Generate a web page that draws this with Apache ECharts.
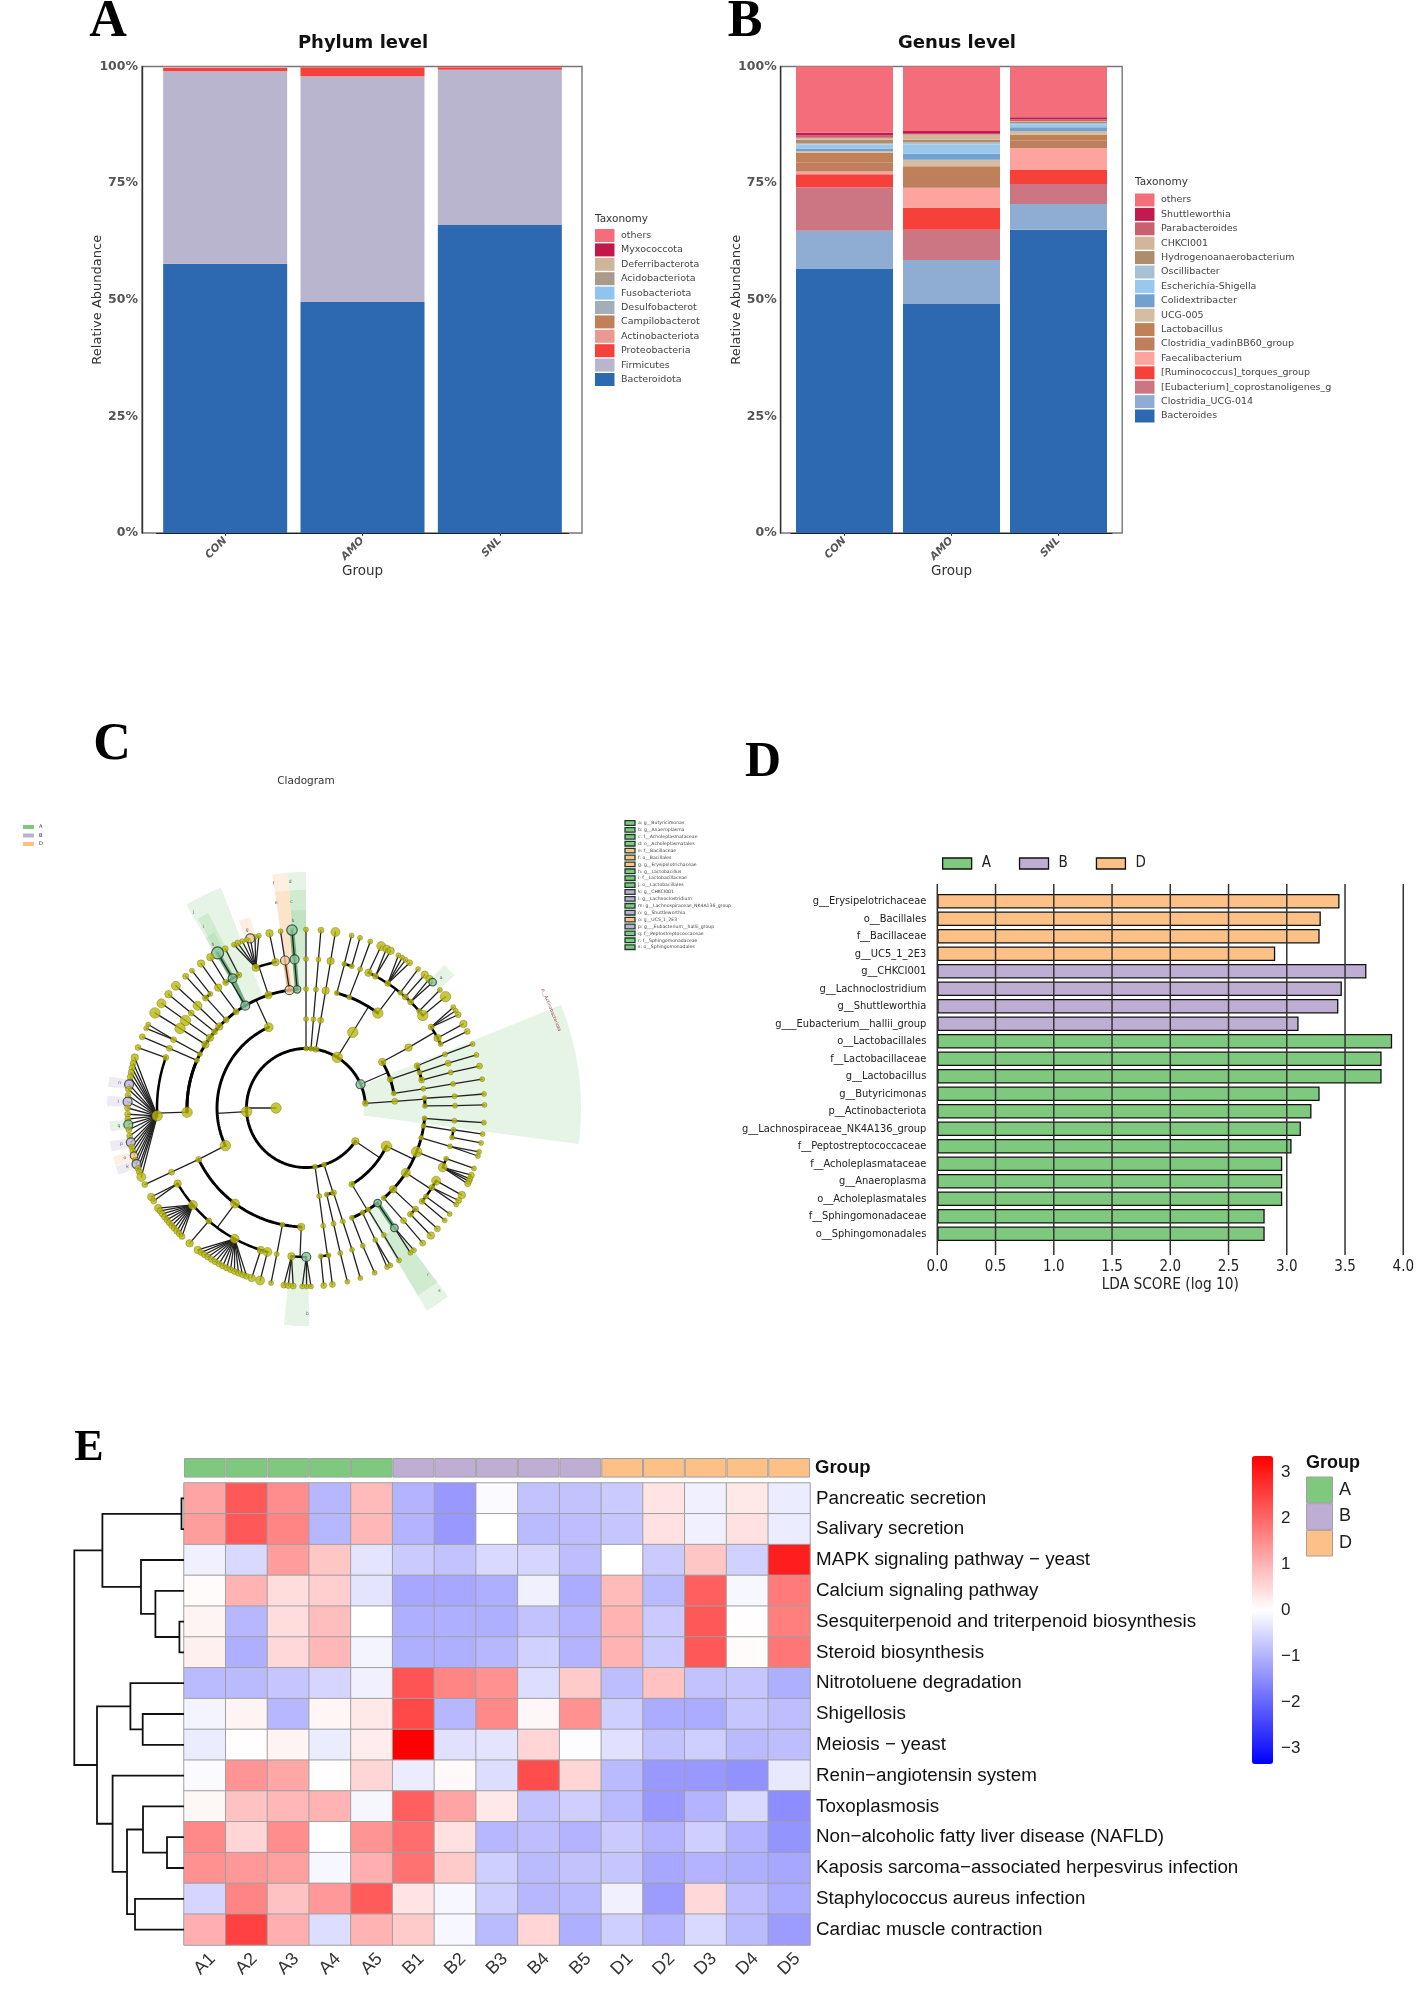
<!DOCTYPE html>
<html><head><meta charset="utf-8"><style>html,body{margin:0;padding:0;background:#fff}#c{width:1417px;height:1991px}</style>
<script src="https://cdn.jsdelivr.net/npm/echarts@6/dist/echarts.min.js"></script></head><body><div id="c"></div>
<script>
// ---------- Panel A ----------
const groups3 = ['CON','AMO','SNL'];
const phylumNames = ['Bacteroidota','Firmicutes','Proteobacteria','Actinobacteriota','Campilobacterota','Desulfobacterota','Fusobacteriota','Acidobacteriota','Deferribacterota','Myxococcota','others'];
const phylumColors = ['#2d69b1','#b9b5cf','#f6413a','#e99a90','#c08059','#a4aeb8','#90c4ee','#a99a8a','#cfb59a','#c2174a','#f36e7a'];
const phylumValues = [[57.7,49.5,66.0],[41.3,48.4,33.3],[0.7,1.95,0.55],[0.05,0.05,0.03],[0.05,0.03,0.03],[0.05,0.03,0.03],[0.02,0.01,0.01],[0.01,0.01,0.01],[0.02,0.01,0.01],[0.01,0.01,0.01],[0.09,0.02,0.03]];
// ---------- Panel B ----------
const genusNames = ['Bacteroides','Clostridia_UCG-014','[Eubacterium]_coprostanoligenes_group','[Ruminococcus]_torques_group','Faecalibacterium','Clostridia_vadinBB60_group','Lactobacillus','UCG-005','Colidextribacter','Escherichia-Shigella','Oscillibacter','Hydrogenoanaerobacterium','CHKCI001','Parabacteroides','Shuttleworthia','others '];
const genusColors = ['#2d69b1','#8fadd3','#cc7684','#f6413a','#fca49d','#bf7f5f','#c08058','#d4bda2','#72a0cf','#99c8ee','#a8c0d4','#ae8c6c','#d2b69a','#c9606f','#c21a4c','#f36e7a'];
const genusValues = [[56.7,49.1,65.0],[8.1,9.4,5.5],[9.3,6.5,4.3],[2.8,4.7,3.0],[0.6,4.3,4.7],[2.0,2.3,1.6],[2.0,2.3,1.3],[0.4,1.4,0.8],[0.5,1.3,0.8],[0.9,2.0,0.6],[0.2,0.4,0.3],[0.8,0.6,0.2],[0.4,1.1,0.2],[0.5,0.2,0.4],[0.6,0.6,0.4],[14.2,13.8,10.9]];
// ---------- Panel C: cladogram, angle in degrees and relative abundance class ----------
const n = (angle, abundance, kids, group) => ({angle, abundance, kids: kids || [], group: group || ''});
const chain = (angle, abundances, group) => abundances.reduceRight((kid, ab) => [n(angle, ab, kid, group)], [])[0];
const cladoTree = n(180,5,[
  n(4.5,2,[n(4.3,2,[n(4.7,1,[n(4.5,1,[n(4.5,1)])]), n(1,1,[n(0.9,1,[n(1,1)])])])]),
  n(23.5,3,[
    n(31.1,3,[n(30.5,3,[n(32.9,2,[n(34.4,1),n(33,1),n(31.5,2)]), n(28,3,[n(28.1,3)]), n(25.4,1,[n(25.4,2)])])]),
    n(18.8,2,[n(20.8,2,[n(21.1,1,[n(21,1)])]), n(17.3,1,[n(17.5,2,[n(17.3,1)])]), n(13.6,2,[n(13.8,1,[n(13.6,2)])])]),
    n(9.5,1,[n(9.3,1,[n(9.3,1,[n(9.3,1)])])])
  ],'A'),
  n(58.4,5,[n(58.3,5,[
    n(75,1,[n(75.1,1,[n(75.2,1)]), n(72.1,1,[n(72.4,1)])]),
    n(68.7,1,[n(68.7,1,[n(68.9,1)])]),
    n(52.9,5,[
      n(65.2,3,[n(65.1,4)]),
      n(62.2,2,[n(63.2,3),n(61.7,3)]),
      n(56.7,2,[n(58.8,1),n(57.4,1),n(56.1,1),n(54.5,2)]),
      n(50.7,1,[n(51.1,1)]),
      n(48.2,2,[n(48.3,3)]),
      n(45.4,2,[n(46.3,3),n(44.8,2,[],'A')]),
      n(40.6,1,[n(41.4,1)]),
      n(38.4,5,[n(38.6,5)])
    ])
  ])]),
  chain(80.5,[2,2,3,3,4]),
  chain(85.2,[1,1,1,1,2]),
  chain(90,[1,1,1,1,1]),
  n(183.5,5,[
    n(114.8,4,[
      n(94.3,2,[n(94.4,3,[n(94.5,4,[],'A')],'A')],'A'),
      n(98,3,[n(98.1,3,[n(98.2,1)],'D')],'D'),
      n(108.4,3,[
        n(101.8,3,[n(101.8,3)]),
        n(109.7,3,[n(105.3,1),n(106.6,1),n(108.2,3,[],'D'),n(109.4,1),n(110.9,1),n(112.5,2),n(113.8,1)])
      ]),
      n(120.7,3,[n(116.8,2,[n(116.9,2)]),n(119.5,3,[n(119.7,5,[],'A')],'A'),n(122.6,2,[n(122.4,3)])],'A'),
      n(126,2,[n(126.1,3,[n(126,3)])]),
      n(132.2,2,[n(130,1,[n(129.7,1)]),n(132.4,2,[n(132.4,2)])]),
      n(136.8,3,[n(136.7,4,[n(136.8,4)])]),
      n(140.2,2,[n(140.4,2,[n(140.4,3)])]),
      n(143.8,3,[n(144,5,[n(144.1,4)])]),
      n(147.7,3,[n(147.7,5,[n(147.8,5)])]),
      n(153,1,[n(152.7,2,[n(152.1,1),n(153.5,1)])]),
      n(156.4,1,[n(156.4,2,[n(156.5,2)])]),
      n(182,5,[n(160.2,2,[n(160.2,2)]),
        n(183,5,[n(163.6,3),n(165.5,2),n(167,2),n(168.5,2),n(170,2),n(172.4,3,[],'B'),n(174,2),n(176,2),n(178,3,[],'B'),n(180,2),n(182,2),n(183.6,2),n(185.3,3,[],'A'),n(187,2),n(189,2),n(191.1,3,[],'B'),n(192.6,2),n(194,2),n(195.5,2,[],'D'),n(197,2),n(198.3,3,[],'B'),n(199.8,2),n(201,2),n(202.7,4)])
      ])
    ]),
    n(205,5,[
      n(205.6,2,[n(205.5,2,[n(205.4,2)])]),
      n(233.4,4,[
        n(210.5,3,[n(209.9,3),n(211.4,2)]),
        n(220.6,4,[n(214.1,3),n(215.2,2),n(216.4,2),n(217.6,2),n(218.8,2),n(220,2),n(221.2,2),n(222.4,2),n(223.6,2),n(224.8,2),n(226,2)]),
        n(229.3,2,[n(229.3,3)]),
        n(241.4,4,[n(232.7,3),n(234,2),n(235.3,2),n(236.6,2),n(238,2),n(239.4,2),n(240.8,2),n(242.2,2),n(243.6,2),n(245,2),n(246.4,2),n(247.8,2),n(249.2,2),n(250.6,2)]),
        n(252.3,3,[n(252.3,3)]),
        n(255,4,[n(255.1,4)])
      ]),
      n(258.6,1,[n(258.7,1,[n(258.7,1)])]),
      n(267.7,3,[n(264.4,3,[n(262.9,2),n(264.3,2),n(265.9,2)]), n(270.1,3,[n(268.8,1),n(270.2,1),n(271.6,1)],'A')])
    ])
  ]),
  n(278.8,1,[n(278.5,1,[n(278.3,1,[n(275.7,1,[n(275.7,2)]),n(278.7,1,[n(278.5,2)])])])]),
  n(287.7,1,[n(283.5,1,[n(283.4,1,[n(283.3,1,[n(283.4,1)])])]), n(288,2,[n(288,1,[n(288,1,[n(287.7,1)])])])]),
  n(326,3,[
    n(334.6,5,[
      n(355,1,[n(355.1,1,[n(355.3,1)])]),
      n(351.3,1,[n(351.6,1,[n(351.6,1)]),n(348.6,1,[n(348.7,1)])]),
      n(345.5,1,[n(345.1,1,[n(345.8,1),n(344.4,1)])]),
      n(338.4,5,[n(340.1,1,[n(340.2,1)]),n(336.5,4,[n(337.9,2),n(336.6,2),n(335.8,2),n(334.9,2)])]),
      n(327,4,[n(330.8,4,[n(330.8,3)]),n(327.7,2,[n(328.8,2),n(327.3,1)]),n(323.6,1,[n(323.6,1)]),n(321.2,2,[n(321,1)])]),
      n(317,3,[n(317.3,2,[n(317.4,2)]),n(314.5,2,[n(314.4,3)])]),
      n(310.8,1,[n(310.9,2,[n(310.8,2)])])
    ]),
    n(301,2,[
      n(292.7,1,[n(292.4,1,[n(292.6,1)])]),
      n(298.4,1,[n(297.7,1,[n(297,1),n(298.2,1)])]),
      n(301.5,1,[n(301.5,1,[n(301.4,1)])]),
      n(307,2,[n(306.4,2,[n(305.8,1),n(307.2,1)],'A')],'A')
    ])
  ])
]);
const cladoExtraArc = [[3,156.4,182]];
const cladoWedges = [[-7.5,22,58,275,'A'],[90,94.4,119,236,'A'],[90,94.4,149,218,'A'],[90,94.4,178,198,'A'],[94.4,98.2,119,236,'D'],[94.4,98.2,149,218,'D'],[111.1,120.5,119,236,'A'],[116.6,119.8,149,218,'A'],[117.6,120.6,178,198,'A'],[106.3,109.7,178,199,'D'],[41.7,46,178,199,'A'],[264.2,270.8,149,218,'A'],[-59.2,-53,119,236,'A'],[-59.2,-53,149,218,'A'],[170.9,173.9,178,199,'B'],[176.5,179.5,178,199,'B'],[183.8,186.8,178,197,'A'],[189.6,192.6,178,199,'B'],[194.2,196.8,178,199,'D'],[197,199.6,178,199,'B']];
const cladoLetters = [[264,21.8,'p__Actinobacteriota'],[227,94,'d'],[207,94,'c'],[188,94,'b'],[227,98.3,'f'],[207,98.3,'e'],[188,108.2,'g'],[226,119.8,'j'],[208,119.6,'i'],[188,119.7,'h'],[188,44,'a'],[206,270.4,'b'],[226,-53.8,'s'],[207,-53.8,'r'],[188,172.4,'n'],[188,178,'l'],[188,185.3,'q'],[188,191.1,'p'],[188,195.5,'o'],[188,198.3,'k']];
const cladoKeyLeft = ['A','B','D'];
const cladoKeyRight = [['a: g__Butyricimonas','A'],['b: g__Anaeroplasma','A'],['c: f__Acholeplasmataceae','A'],['d: o__Acholeplasmatales','A'],['e: f__Bacillaceae','D'],['f: o__Bacillales','D'],['g: g__Erysipelotrichaceae','D'],['h: g__Lactobacillus','A'],['i: f__Lactobacillaceae','A'],['j: o__Lactobacillales','A'],['k: g__CHKCI001','B'],['l: g__Lachnoclostridium','B'],['m: g__Lachnospiraceae_NK4A136_group','A'],['n: g__Shuttleworthia','B'],['o: g__UC5_1_2E3','D'],['p: g___Eubacterium__hallii_group','B'],['q: f__Peptostreptococcaceae','A'],['r: f__Sphingomonadaceae','A'],['s: o__Sphingomonadales','A']];
// ---------- Panel D ----------
const ldaNames = ['g__Erysipelotrichaceae','o__Bacillales','f__Bacillaceae','g__UC5_1_2E3','g__CHKCI001','g__Lachnoclostridium','g__Shuttleworthia','g___Eubacterium__hallii_group','o__Lactobacillales','f__Lactobacillaceae','g__Lactobacillus','g__Butyricimonas','p__Actinobacteriota','g__Lachnospiraceae_NK4A136_group','f__Peptostreptococcaceae','f__Acholeplasmataceae','g__Anaeroplasma','o__Acholeplasmatales','f__Sphingomonadaceae','o__Sphingomonadales'];
const ldaScores = [3.44,3.28,3.27,2.89,3.67,3.46,3.43,3.09,3.89,3.80,3.80,3.27,3.20,3.11,3.03,2.95,2.95,2.95,2.80,2.80];
const ldaGroups = ['D','D','D','D','B','B','B','B','A','A','A','A','A','A','A','A','A','A','A','A'];
const ldaGridValues = [0,0.5,1,1.5,2,2.5,3,3.5,4];
const groupColor = {A:'#7fc97f',B:'#beaed4',D:'#fdc086'};
// ---------- Panel E ----------
const heatCols = ['A1','A2','A3','A4','A5','B1','B2','B3','B4','B5','D1','D2','D3','D4','D5'];
const heatGroups = ['A','A','A','A','A','B','B','B','B','B','D','D','D','D','D'];
const heatRows = ['Pancreatic secretion','Salivary secretion','MAPK signaling pathway − yeast','Calcium signaling pathway','Sesquiterpenoid and triterpenoid biosynthesis','Steroid biosynthesis','Nitrotoluene degradation','Shigellosis','Meiosis − yeast','Renin−angiotensin system','Toxoplasmosis','Non−alcoholic fatty liver disease (NAFLD)','Kaposis sarcoma−associated herpesvirus infection','Staphylococcus aureus infection','Cardiac muscle contraction'];
const heatValues = [
[1.2,2.2,1.5,-0.95,0.9,-1.0,-1.35,-0.05,-0.8,-0.8,-0.7,0.35,-0.2,0.3,-0.25],
[1.3,2.2,1.6,-0.95,0.95,-1.0,-1.35,0.0,-0.9,-0.85,-0.75,0.4,-0.2,0.4,-0.25],
[-0.2,-0.5,1.3,0.75,-0.35,-0.7,-0.8,-0.5,-0.55,-0.85,0.0,-0.7,0.75,-0.6,2.95],
[0.05,1.0,0.45,0.65,-0.35,-1.15,-1.15,-1.05,-0.2,-1.1,0.9,-0.9,2.1,-0.1,1.75],
[0.15,-0.95,0.45,0.85,0.0,-1.05,-1.05,-1.05,-0.8,-1.0,1.0,-0.7,2.2,0.02,1.7],
[0.2,-1.05,0.5,0.95,-0.15,-1.05,-1.05,-0.95,-0.6,-1.0,1.0,-0.7,2.2,0.05,1.8],
[-0.9,-0.9,-0.75,-0.55,-0.2,2.25,1.6,1.45,-0.45,0.7,-0.85,0.8,-0.8,-0.75,-1.05],
[-0.15,0.15,-0.95,0.12,0.3,2.4,-0.95,1.55,0.1,1.45,-0.65,-1.1,-1.1,-0.75,-0.85],
[-0.25,0.03,0.15,-0.25,0.25,3.35,-0.4,-0.35,0.55,-0.03,-0.4,-0.8,-0.65,-0.9,-0.85],
[-0.05,1.4,1.15,0.02,0.55,-0.25,0.08,-0.45,2.35,0.55,-0.9,-1.35,-1.35,-1.45,-0.3],
[0.12,0.8,0.95,1.0,-0.12,2.1,1.2,0.3,-0.8,-0.65,-0.9,-1.35,-1.0,-0.5,-1.5],
[1.55,0.55,1.5,0,1.4,1.9,0.4,-0.95,-0.85,-1.0,-0.7,-1.0,-0.65,-1.0,-1.4],
[1.45,1.35,1.25,-0.1,1.05,1.85,0.7,-0.65,-0.9,-0.8,-0.75,-1.15,-1.0,-1.05,-1.15],
[-0.55,1.6,0.8,1.35,2.15,0.35,-0.1,-0.65,-0.95,-0.9,-0.2,-1.3,0.5,-0.85,-1.1],
[1.05,2.5,1.05,-0.45,1.0,0.7,-0.1,-0.9,0.55,-1.05,-0.65,-1.0,-0.5,-0.9,-1.3]];
const colorTicks = [-3,-2,-1,0,1,2,3];
// merges: left child, right child, height (leaves are rows 0..14, new nodes number from 15)
const dendroMerges = [[0,1,2.5],[4,5,4.6],[3,16,28.6],[2,17,43],[15,18,81.6],[7,8,41.3],[6,20,53.6],[11,12,17],[10,22,41],[13,14,49],[23,24,57],[9,25,71.4],[21,26,87],[19,27,109.7]];

const grids=[], xAxes=[], yAxes=[], series=[], legends=[], titles=[], graphics=[];
function addGrid(g,x,y){ grids.push(Object.assign({containLabel:false},g)); const i=grids.length-1;
  xAxes.push(Object.assign({gridIndex:i},x)); yAxes.push(Object.assign({gridIndex:i},y)); return i; }
const hidden={type:'value',show:false};
const SANS='"DejaVu Sans"', COND='"DejaVu Sans Condensed","Liberation Sans Narrow","Liberation Sans"', HELV='"Liberation Sans"';

function stackedPanel(o){
  addGrid({left:o.frameL,top:66.5,width:o.frameW,height:466.5,show:true,borderColor:'#777',borderWidth:1.4,backgroundColor:'#fff'},
    Object.assign({},hidden,{min:0,max:1}),
    {type:'value',min:0,max:100,interval:25,name:'Relative Abundance',nameLocation:'middle',nameGap:38,nameMoveOverlap:false,
     nameTextStyle:{fontFamily:SANS,fontSize:13,color:'#333'},
     axisLine:{show:true,lineStyle:{color:'#333',width:1.4}},axisTick:{show:false},splitLine:{show:false},
     axisLabel:{formatter:'{value}%',fontFamily:SANS,fontWeight:'bold',fontSize:12.5,color:'#555',margin:4,padding:[2,0,0,0]}});
  const i=addGrid({left:o.barL,top:66.5,width:o.barW,height:466.5},
    {type:'category',data:groups3,name:'Group',nameLocation:'middle',nameGap:31,nameMoveOverlap:false,
     nameTextStyle:{fontFamily:SANS,fontSize:13.5,color:'#333'},
     axisLine:{show:true,lineStyle:{color:'#222',width:1}},axisTick:{show:true,length:3,lineStyle:{color:'#444'},alignWithLabel:true},
     axisLabel:{rotate:45,fontFamily:SANS,fontWeight:'bold',fontStyle:'italic',fontSize:10.5,color:'#555',margin:6}},
    Object.assign({},hidden,{min:0,max:100}));
  o.names.forEach((nm,k)=>series.push({name:nm,type:'bar',stack:o.stack,xAxisIndex:i,yAxisIndex:i,barWidth:o.barPx,
    data:o.values[k],itemStyle:{color:o.colors[k]},emphasis:{disabled:true},silent:true}));
  legends.push({data:o.names.slice().reverse(),icon:'rect',orient:'vertical',left:o.legL,top:o.legT,itemWidth:19.5,itemHeight:13,itemGap:1.4,padding:0,selectedMode:false,
    textStyle:{fontFamily:SANS,fontSize:9.5,color:'#444',width:o.legTextW,overflow:'truncate',ellipsis:'',padding:[0,0,0,1.5]}});
  titles.push({text:'Taxonomy',left:o.legL,top:o.titleT,textStyle:{fontFamily:SANS,fontSize:10.5,fontWeight:'normal',color:'#333'},padding:0});
}
stackedPanel({frameL:142,frameW:440,barL:156.5,barW:412,barPx:124,names:phylumNames,values:phylumValues,colors:phylumColors,stack:'p',legL:595,legT:229,titleT:214,legTextW:82});
stackedPanel({frameL:780.7,frameW:341.5,barL:791,barW:321,barPx:97,names:genusNames,values:genusValues,colors:genusColors,stack:'g',legL:1135,legT:193.5,titleT:177,legTextW:175});

[['A',108,23,52],['B',745,23,52],['C',112,746,52],['D',763,763,50],['E',89,1449,44]].forEach(t=>titles.push({text:t[0],left:t[1],top:t[2],textAlign:'center',textVerticalAlign:'middle',padding:0,
  textStyle:{fontFamily:'"Liberation Serif"',fontWeight:'bold',fontSize:t[3],color:'#000'}}));
[['Phylum level',363,43],['Genus level',957,43]].forEach(t=>titles.push({text:t[0],left:t[1],top:t[2],textAlign:'center',textVerticalAlign:'middle',padding:0,
  textStyle:{fontFamily:SANS,fontWeight:'bold',fontSize:18,color:'#111'}}));
titles.push({text:'Cladogram',left:306,top:781,textAlign:'center',textVerticalAlign:'middle',padding:0,textStyle:{fontFamily:SANS,fontWeight:'normal',fontSize:10.5,color:'#333'}});

// ---------- cladogram ----------
const LEVEL_R=[30,59.5,89,119,149,178.5];
const segs=[], flat=[];
const norm=a=>((a%360)+360)%360;
function arcPts(r,a0,a1){const p=[];const st=Math.max(Math.abs(a1-a0)/Math.ceil(Math.abs(a1-a0)/1.5||1),0.2);for(let a=a0;a<=a1+1e-6;a+=st)p.push([r,a]);if(p[p.length-1][1]<a1)p.push([r,a1]);return p;}
const hlLink={A:'#6fae7c',D:'#f0b98a',B:'#b3a3cc'};
(function walk(nd,d){
  const r=LEVEL_R[d];
  flat.push({r,a:nd.angle,ab:nd.abundance,g:nd.group});
  if(!nd.kids.length)return;
  const cr=LEVEL_R[d+1];
  const angs=nd.kids.map(k=>k.angle), lo=Math.min(...angs), hi=Math.max(...angs);
  nd.kids.forEach(k=>{ if(k.group&&nd.group===k.group) segs.push({pts:[[r,nd.angle],[cr,k.angle]],w:4.5,c:hlLink[k.group],z:1}); });
  if(d+1===5||nd.kids.length===1){
    nd.kids.forEach(k=>segs.push({pts:[[r,nd.angle],[cr,k.angle]],w:1.3,c:'#222',z:2}));
  } else {
    segs.push({pts:arcPts(cr,lo,hi),w:d<=2?2.9:2.5,c:'#000',z:3});
    const ma=Math.min(hi,Math.max(lo,nd.angle));
    segs.push({pts:[[r,nd.angle],[cr,ma]],w:1.3,c:'#222',z:2});
  }
  nd.kids.forEach(k=>walk(k,d+1));
})(cladoTree,0);
cladoExtraArc.forEach(e=>segs.push({pts:arcPts(LEVEL_R[e[0]],e[1],e[2]),w:2.9,c:'#000',z:3}));
const wedgeFill={A:'rgba(127,201,127,0.2)',B:'rgba(190,174,212,0.25)',D:'rgba(253,192,134,0.25)'};
const wedgeShapes=cladoWedges.map(w=>{const a=arcPts(w[3],w[0],w[1]),b=arcPts(w[2],w[0],w[1]).reverse();return {pts:a.concat(b),g:w[4]};});
const cladoPolar={center:[306,1108],radius:280};
const polarAxes={angleAxis:{type:'value',min:0,max:360,startAngle:0,clockwise:false,show:false},radiusAxis:{type:'value',min:0,max:280,show:false}};
const polarXY=(api,p)=>api.coord([p[0],norm(p[1])]);
series.push({type:'custom',coordinateSystem:'polar',polarIndex:0,silent:true,z:1,clip:false,
  data:wedgeShapes.map((s,i)=>[s.pts[0][0],norm(s.pts[0][1])]),
  renderItem:(p,api)=>{const s=wedgeShapes[p.dataIndex];return {type:'polygon',shape:{points:s.pts.map(q=>polarXY(api,q))},style:{fill:wedgeFill[s.g],stroke:null}};}});
const orderedSegs=segs.slice().sort((a,b)=>a.z-b.z);
series.push({type:'custom',coordinateSystem:'polar',polarIndex:0,silent:true,z:2,clip:false,
  data:orderedSegs.map(s=>[s.pts[0][0],norm(s.pts[0][1])]),
  renderItem:(p,api)=>{const s=orderedSegs[p.dataIndex];return {type:'polyline',shape:{points:s.pts.map(q=>polarXY(api,q))},style:{fill:null,stroke:s.c,lineWidth:s.w,lineCap:'round',lineJoin:'round'}};}});
const nodeD=[0,5,6,7.5,9,10.5];
const nodeFill={A:'#8bc79b',B:'#c4b5dd',D:'#f9c898'};
series.push({type:'scatter',coordinateSystem:'polar',polarIndex:0,z:3,silent:true,
  data:flat.map(f=>({value:[f.r,norm(f.a)],symbolSize:nodeD[f.ab]+(f.g?1.5:0),itemStyle:{color:f.g?nodeFill[f.g]:'#b9b90c',borderColor:f.g?'#1f3a2a':'#6b6b10',borderWidth:f.g?1.2:0.5}}))});
series.push({type:'custom',coordinateSystem:'polar',polarIndex:0,silent:true,z:4,clip:false,
  data:cladoLetters.map(l=>[l[0],norm(l[1])]),
  renderItem:(p,api)=>{const l=cladoLetters[p.dataIndex];const xy=polarXY(api,[l[0],l[1]]);const long=l[2].length>1;
    return {type:'text',x:xy[0],y:xy[1],rotation:long?(l[1]-90)*Math.PI/180:0,style:{text:l[2],fontFamily:SANS,fontSize:long?4.6:4.5,fill:long?'#9c3a3a':'#555',align:'center',verticalAlign:'middle'}};}});
cladoKeyLeft.forEach((g,i)=>{const y=827+i*8.5;
  graphics.push({type:'rect',shape:{x:23,y:y-2,width:11,height:4},style:{fill:groupColor[g]}});
  graphics.push({type:'text',style:{x:39,y:y,text:g,fontFamily:SANS,fontSize:5,fill:'#333',verticalAlign:'middle'}});});
cladoKeyRight.forEach((e,i)=>{const y=823+i*6.9;
  graphics.push({type:'rect',shape:{x:625,y:y-2.3,width:10,height:4.6},style:{fill:groupColor[e[1]],stroke:'#1f3a2a',lineWidth:1.3}});
  graphics.push({type:'text',style:{x:638,y:y,text:e[0],fontFamily:SANS,fontSize:4.6,fill:'#444',verticalAlign:'middle'}});});

// ---------- LDA ----------
const ldaTicks={type:'value',min:0,max:4,interval:0.5};
const ldaF=addGrid({left:937.3,top:884,width:467.7,height:371},
  Object.assign({},ldaTicks,{name:'LDA SCORE (log 10)',nameLocation:'middle',nameGap:23,nameMoveOverlap:false,nameTextStyle:{fontFamily:COND,fontSize:15.3,color:'#222'},
   axisLine:{show:false},axisTick:{show:false},splitLine:{show:false},
   axisLabel:{fontFamily:COND,fontSize:15,color:'#222',margin:5,formatter:v=>v.toFixed(1)}}),
  Object.assign({},hidden,{min:0,max:1}));
const ldaI=addGrid({left:937.3,top:892.5,width:467.7,height:350},
  Object.assign({},hidden,ldaTicks),
  {type:'category',inverse:true,data:ldaNames,axisLine:{show:false},axisTick:{show:false},axisLabel:{fontFamily:COND,fontSize:11,color:'#222',margin:11}});
['A','B','D'].forEach(g=>series.push({name:g,type:'bar',stack:'lda',xAxisIndex:ldaI,yAxisIndex:ldaI,barWidth:14.5,silent:true,z:2,
  data:ldaScores.map((v,i)=>ldaGroups[i]===g?v:null),itemStyle:{color:groupColor[g],borderColor:'#111',borderWidth:1.3}}));
series.push({type:'custom',coordinateSystem:'cartesian2d',xAxisIndex:ldaF,yAxisIndex:ldaF,silent:true,z:8,clip:false,
  data:ldaGridValues.map(v=>[v,0]),
  renderItem:(p,api)=>{const v=api.value(0);const a=api.coord([v,0]),b=api.coord([v,1]);
    return {type:'line',shape:{x1:a[0],y1:a[1],x2:b[0],y2:b[1]},style:{stroke:'#333',lineWidth:1.5}};}});
legends.push({data:['A','B','D'],icon:'rect',left:942,top:856,itemWidth:29,itemHeight:11,itemGap:28,padding:0,selectedMode:false,
  textStyle:{fontFamily:COND,fontSize:15,color:'#222',padding:[0,0,0,5]},itemStyle:{borderColor:'#111',borderWidth:1.3}});

// ---------- Heatmap ----------
addGrid({left:184,width:626,top:1458,height:19.6},
  {type:'category',data:heatCols,show:false},
  {type:'value',min:0,max:1,position:'right',name:'Group',nameLocation:'middle',nameRotate:0,nameGap:5,
   nameTextStyle:{fontFamily:HELV,fontWeight:'bold',fontSize:18.5,color:'#111',align:'left',verticalAlign:'middle'},
   axisLine:{show:false},axisTick:{show:false},axisLabel:{show:false},splitLine:{show:false}});
series.push({type:'bar',xAxisIndex:grids.length-1,yAxisIndex:grids.length-1,barCategoryGap:0,silent:true,
  data:heatCols.map((c,i)=>({value:1,itemStyle:{color:groupColor[heatGroups[i]],borderColor:'#a0a0a0',borderWidth:1}}))});
const hI=addGrid({left:184,width:626,top:1483,height:462},
  {type:'category',data:heatCols,axisLine:{show:false},axisTick:{show:false},splitArea:{show:false},
   axisLabel:{rotate:45,align:'center',verticalAlign:'middle',margin:19,fontFamily:HELV,fontSize:18,color:'#333',interval:0}},
  {type:'category',inverse:true,data:heatRows,position:'right',axisLine:{show:false},axisTick:{show:false},
   axisLabel:{fontFamily:HELV,fontSize:18.8,color:'#111',margin:6,interval:0}});
const heatData=[];heatValues.forEach((row,r)=>row.forEach((v,c)=>heatData.push([c,r,v])));
series.push({type:'heatmap',xAxisIndex:hI,yAxisIndex:hI,data:heatData,silent:true,itemStyle:{borderColor:'#a0a0a0',borderWidth:1},progressive:0});
const heatSeriesIndex=series.length-1;
const dI=addGrid({left:74,width:110,top:1483,height:462},
  {type:'value',min:0,max:110,inverse:true,show:false},{type:'value',min:0,max:15,inverse:true,show:false});
const dY=[];for(let i=0;i<15;i++)dY[i]={h:0,y:i+0.5};
dendroMerges.forEach((m,i)=>{dY[15+i]={h:m[2],y:(dY[m[0]].y+dY[m[1]].y)/2};});
series.push({type:'custom',coordinateSystem:'cartesian2d',xAxisIndex:dI,yAxisIndex:dI,silent:true,clip:false,
  data:dendroMerges.map((m,i)=>[m[2],dY[15+i].y]),
  renderItem:(p,api)=>{const m=dendroMerges[p.dataIndex];const a=dY[m[0]],b=dY[m[1]];
    const pts=[[a.h,a.y],[m[2],a.y],[m[2],b.y],[b.h,b.y]].map(q=>api.coord(q));
    return {type:'polyline',shape:{points:pts},style:{fill:null,stroke:'#111',lineWidth:1.8}};}});
// colour bar axis
addGrid({left:1252,top:1456,width:21,height:308},
  Object.assign({},hidden,{min:0,max:1}),
  {type:'value',min:-3.35,max:3.35,position:'right',axisLine:{show:false},axisTick:{show:false},splitLine:{show:false},
   axisLabel:{customValues:colorTicks,fontFamily:HELV,fontSize:17,color:'#222',margin:8,formatter:v=>String(v).replace('-','−')}});
// group key
const kI=addGrid({left:1306,top:1476.5,width:27,height:80},
  Object.assign({},hidden,{min:0,max:1}),
  {type:'category',inverse:true,position:'right',data:['A','B','D'],axisLine:{show:false},axisTick:{show:false},
   axisLabel:{fontFamily:HELV,fontSize:18,color:'#222',margin:6}});
series.push({type:'bar',xAxisIndex:kI,yAxisIndex:kI,barCategoryGap:0,silent:true,
  data:['A','B','D'].map(g=>({value:1,itemStyle:{color:groupColor[g],borderColor:'#a0a0a0',borderWidth:1}}))});
titles.push({text:'Group',left:1306,top:1463,textVerticalAlign:'middle',padding:0,textStyle:{fontFamily:HELV,fontWeight:'bold',fontSize:18,color:'#111'}});

const chart=echarts.init(document.getElementById('c'));
chart.setOption({animation:false,backgroundColor:'#fff',
  title:titles,legend:legends,grid:grids,xAxis:xAxes,yAxis:yAxes,
  polar:cladoPolar,angleAxis:polarAxes.angleAxis,radiusAxis:polarAxes.radiusAxis,
  visualMap:{type:'continuous',seriesIndex:heatSeriesIndex,min:-3.35,max:3.35,calculable:false,left:1252,top:1456,itemWidth:21,itemHeight:308,padding:0,text:['',''],showLabel:false,
    inRange:{color:['#0000ff','#ffffff','#ff0000']},hoverLink:false},
  graphic:graphics,series});
</script></body></html>
